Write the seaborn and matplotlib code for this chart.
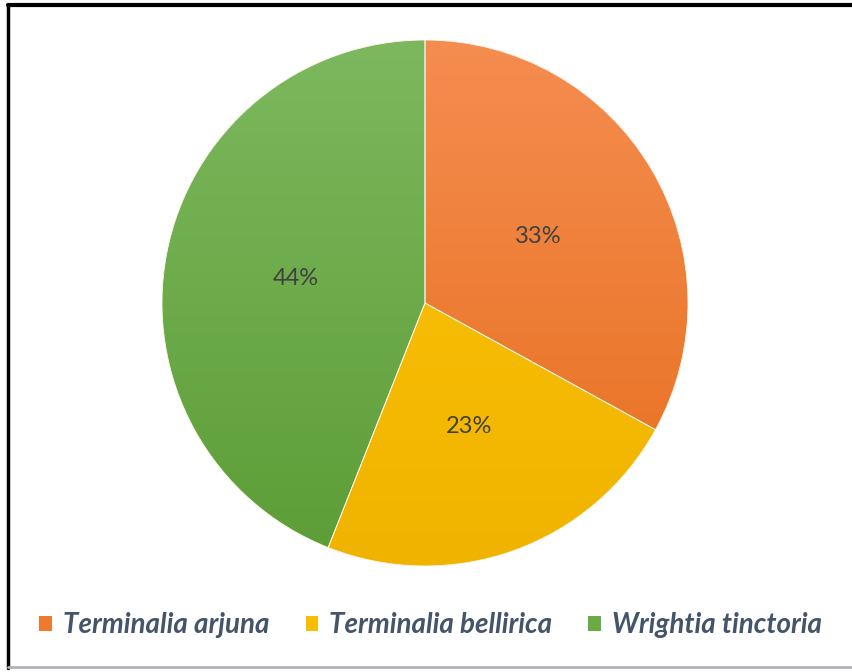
import numpy as np
import matplotlib
matplotlib.use("Agg")
import matplotlib.pyplot as plt
import matplotlib.patches as mpatches
from matplotlib.colors import LinearSegmentedColormap
import seaborn as sns

species = ["Terminalia arjuna", "Terminalia bellirica", "Wrightia tinctoria"]
shares = [33, 23, 44]
top_colors = ["#F58D50", "#FFC408", "#7DB85E"]
bottom_colors = ["#E66E1C", "#F0B400", "#5C9D36"]
legend_colors = ["#EE7A30", "#F7BD08", "#6BAA45"]

sns.set_theme(style="white")
plt.rcParams['font.family'] = ['Lato', 'DejaVu Sans']

fig = plt.figure(figsize=(8.53, 6.72), dpi=100)
fig.patch.set_facecolor("white")

# pie centre ~ (425, 303) px, radius ~263 px
cx, cy, r = 425, 303, 263
W, H = 853, 672
ax = fig.add_axes([(cx - r) / W, 1 - (cy + r) / H, 2 * r / W, 2 * r / H])
wedges, texts, autotexts = ax.pie(
    shares, colors=legend_colors, startangle=90, counterclock=False,
    autopct="%d%%", pctdistance=0.5, radius=1,
    wedgeprops=dict(linewidth=0.6, edgecolor="white"),
    textprops=dict(color="#404040", fontsize=17),
)

# vertical gradient fill inside each wedge
grad = np.linspace(0, 1, 256).reshape(-1, 1)
for w, c0, c1 in zip(wedges, top_colors, bottom_colors):
    cmap = LinearSegmentedColormap.from_list("g", [c0, c1])
    im = ax.imshow(grad, cmap=cmap, extent=[-1, 1, -1, 1], origin="upper",
                   aspect="auto", zorder=w.get_zorder() + 0.1)
    im.set_clip_path(w)
for w in wedges:
    edge = mpatches.Wedge(w.center, w.r, w.theta1, w.theta2, facecolor="none",
                          edgecolor="#FFF8EC", linewidth=0.6, zorder=3)
    ax.add_patch(edge)
for t in autotexts:
    t.set_zorder(5)
ax.set_xlim(-1, 1)
ax.set_ylim(-1, 1)
ax.set_aspect("equal")
ax.axis("off")

handles = [mpatches.Patch(facecolor=c, edgecolor="none", label=s)
           for s, c in zip(species, legend_colors)]
leg = fig.legend(handles=handles, loc="center", ncol=3,
                 bbox_to_anchor=(0.505, 1 - 625 / H), frameon=False,
                 handlelength=0.45, handleheight=0.45, handletextpad=0.4,
                 columnspacing=1.3,
                 prop=dict(family=['Lato', 'DejaVu Sans'], style="italic",
                           weight="bold", size=20))
for t in leg.get_texts():
    t.set_color("#44546A")

# frame lines of the original screenshot
fig.add_artist(plt.Line2D([8 / W, 8 / W], [1 - 668 / H, 1 - 5 / H], color="black", lw=2.5))
fig.add_artist(plt.Line2D([8 / W, 1], [1 - 5 / H, 1 - 5 / H], color="black", lw=3))
fig.add_artist(plt.Line2D([8 / W, 1], [1 - 667 / H, 1 - 667 / H], color="#B0B4BA", lw=2))

fig.savefig("out.png", dpi=100, facecolor="white")
